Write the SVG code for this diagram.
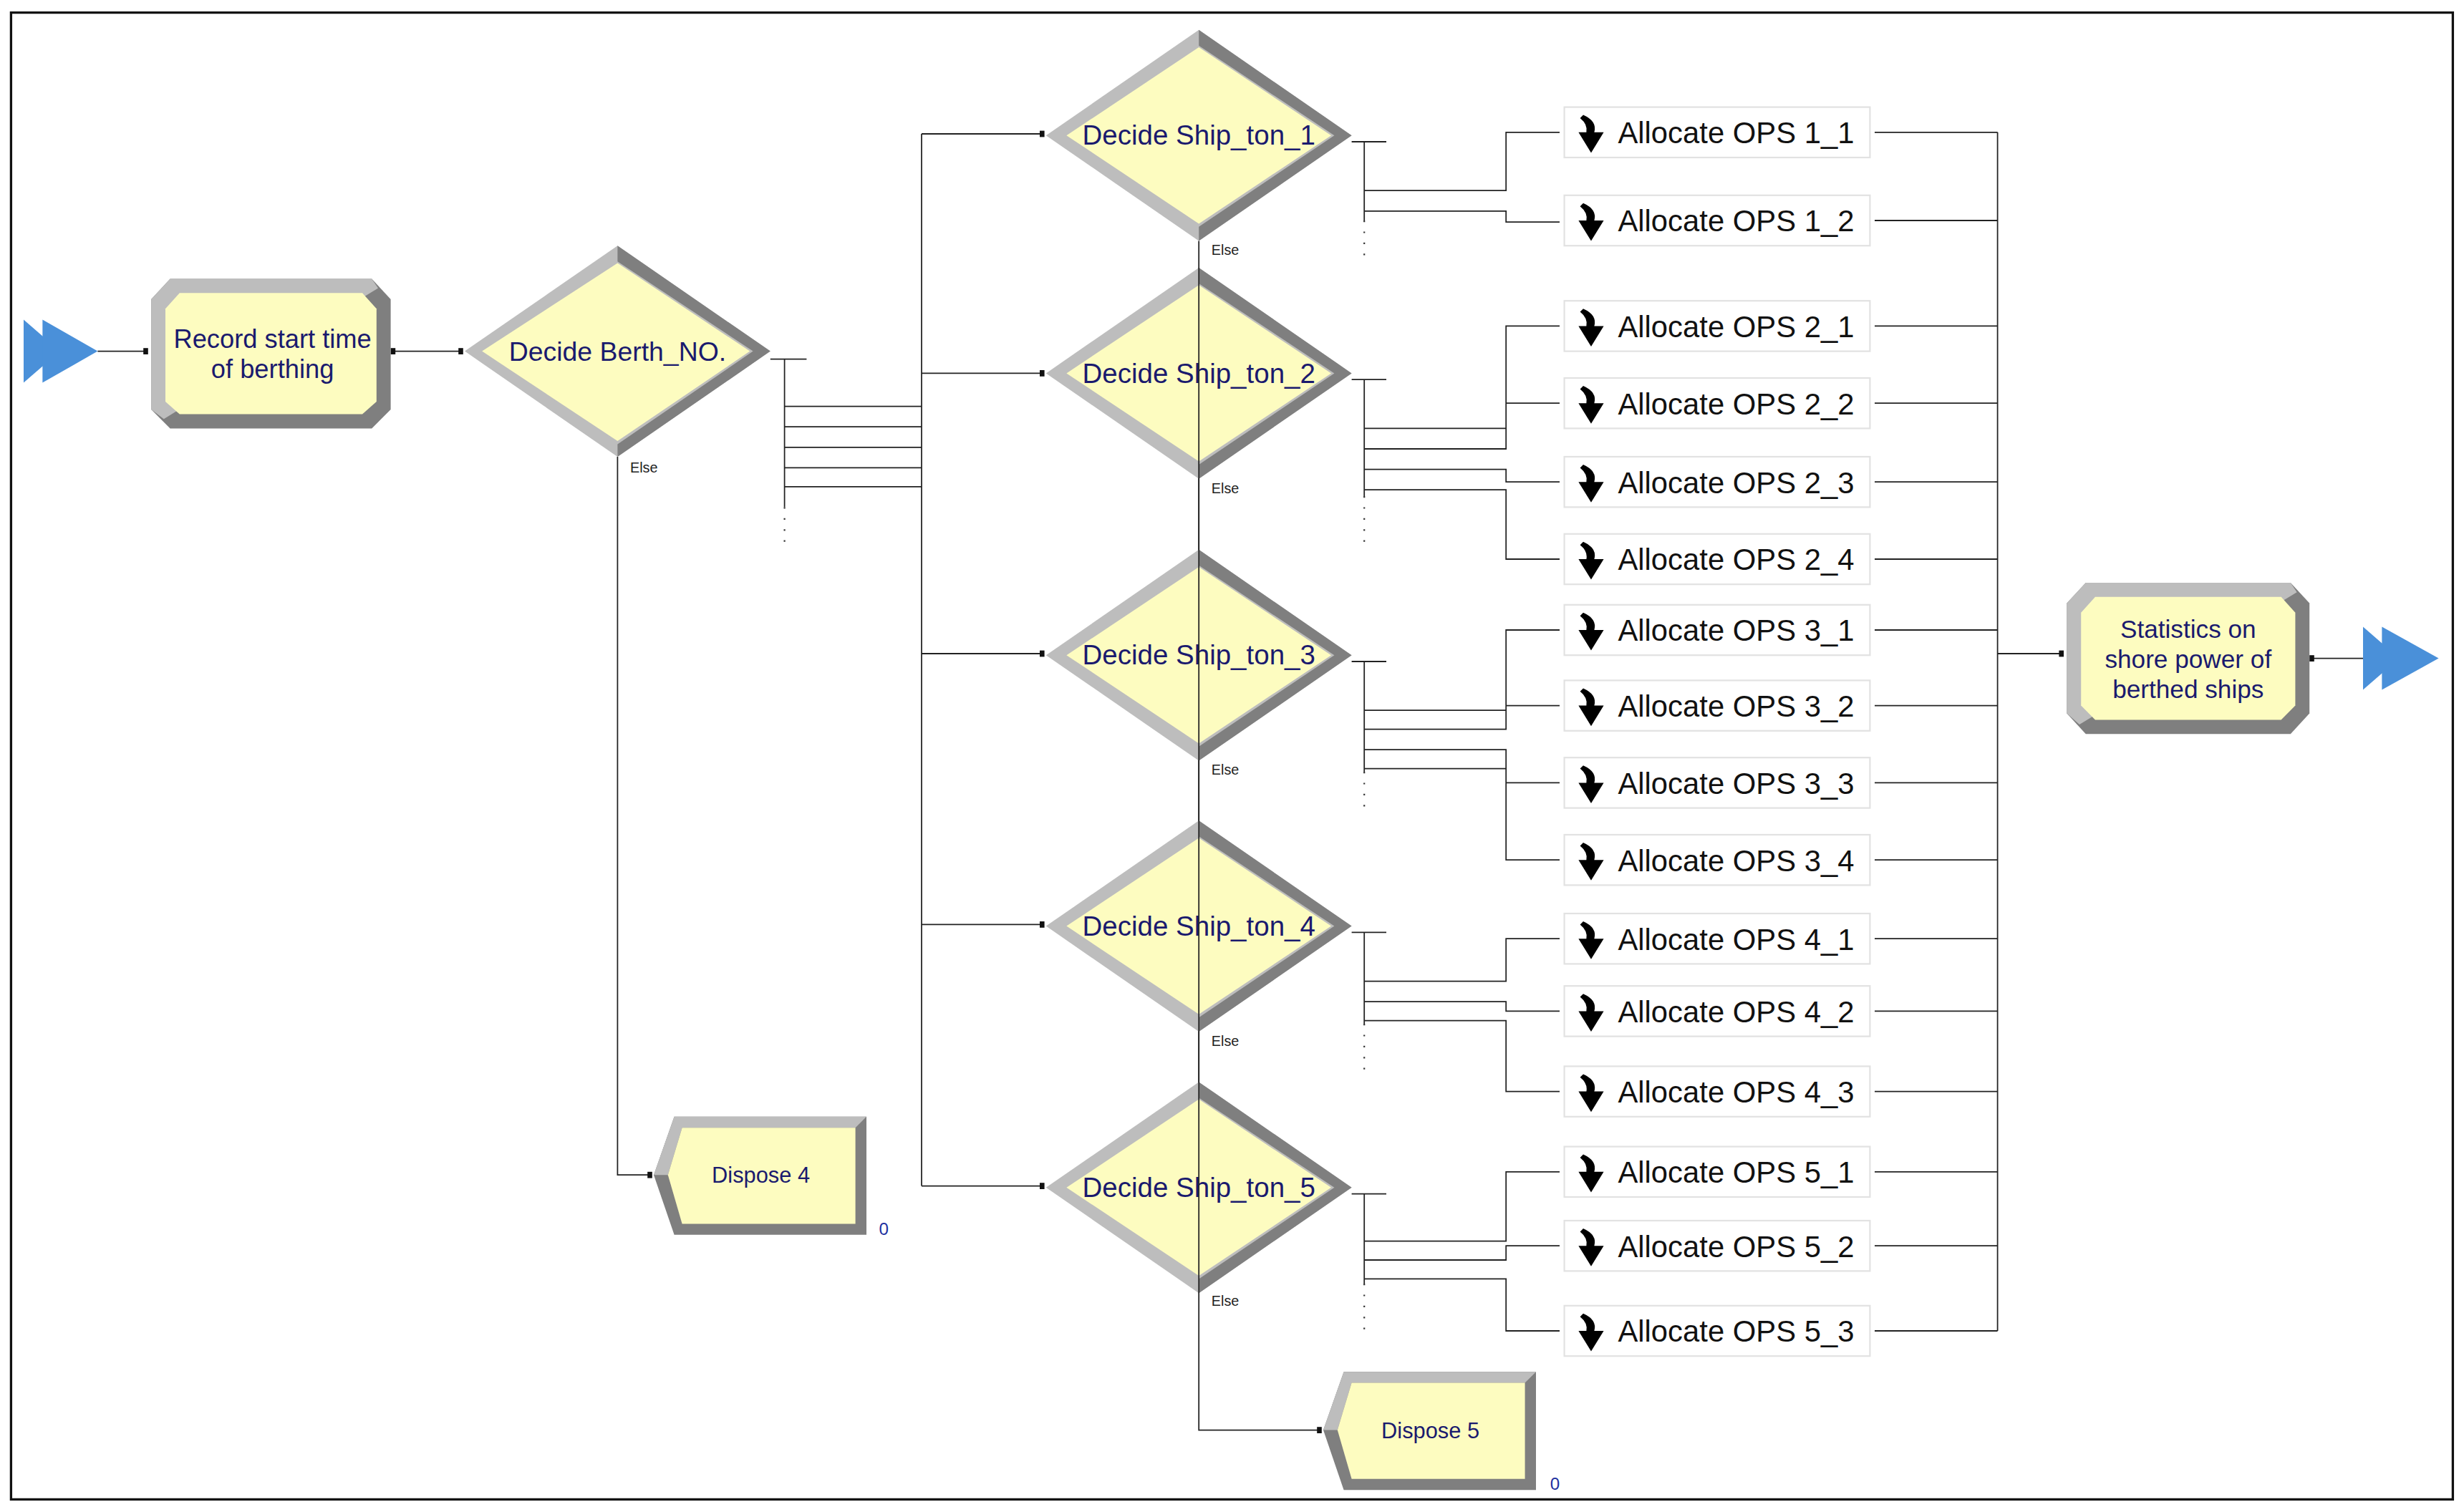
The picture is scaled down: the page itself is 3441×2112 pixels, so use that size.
<svg xmlns="http://www.w3.org/2000/svg" width="3441" height="2112" viewBox="0 0 3441 2112">
<style>
.c{fill:none;stroke:#222;stroke-width:0.8}
.t{font-family:"Liberation Sans",Arial,sans-serif;fill:#1a1a6e;text-anchor:middle}
.a{font-family:"Liberation Sans",Arial,sans-serif;fill:#111;font-size:19px}
.e{font-family:"Liberation Sans",Arial,sans-serif;fill:#222;font-size:9px}
.lt{fill:#bdbdbd}.dk{fill:#7f7f7f}.y{fill:#fdfcc0}
.ab{fill:#fff;stroke:#e2e2e2;stroke-width:1}
.bl{fill:#4a90d9}
.d{fill:#111}
</style>
<rect width="3441" height="2112" fill="#fff"/>
<g transform="scale(2.2)">
<rect x="7" y="8" width="1550" height="944" fill="none" stroke="#111" stroke-width="1.5"/>
<g id="connectors">
<path class="c" d="M62 223H93M250 223H293"/>
<path class="c" d="M489 228H512M498 228V322"/>
<path class="c" d="M498 258H585M498 271H585M498 284H585M498 297H585M498 309H585M585 85V753M585 85H662M585 237H662M585 415H662M585 587H662M585 753H662"/>
<path class="c" d="M392 290V746H413M761 153V908H838"/>
<g stroke="#333" stroke-width="1" stroke-dasharray="1 6" fill="none">
<path d="M498 322V346M866 140V165M866 315V345M866 490V515M866 650V680M866 815V848"/>
</g>
<path class="c" d="M858 90H880M866 90V140M866 121H956V84H990M866 134H956V141H990"/>
<path class="c" d="M858 241H880M866 241V315M866 272H956V207H990M866 285H956V256H990M866 298H956V306H990M866 311H956V355H990"/>
<path class="c" d="M858 420H880M866 420V490M866 451H956V400H990M866 463H956V448H990M866 476H956V497H990M866 488H956V546H990"/>
<path class="c" d="M858 592H880M866 592V650M866 623H956V596H990M866 636H956V642H990M866 648H956V693H990"/>
<path class="c" d="M858 758H880M866 758V815M866 788H956V744H990M866 800H956V791H990M866 812H956V845H990"/>
<path class="c" d="M1190 84H1268M1190 140H1268M1190 207H1268M1190 256H1268M1190 306H1268M1190 355H1268M1190 400H1268M1190 448H1268M1190 497H1268M1190 546H1268M1190 596H1268M1190 642H1268M1190 693H1268M1190 744H1268M1190 791H1268M1190 845H1268M1268 84V845M1268 415H1310M1468 418H1500"/>
<g class="d">
<rect x="91" y="221" width="3" height="4"/><rect x="291" y="221" width="3" height="4"/><rect x="248" y="221" width="3" height="4"/>
<rect x="660" y="83" width="3" height="4"/><rect x="660" y="235" width="3" height="4"/><rect x="660" y="413" width="3" height="4"/><rect x="660" y="585" width="3" height="4"/><rect x="660" y="751" width="3" height="4"/>
<rect x="411" y="744" width="3" height="4"/><rect x="836" y="906" width="3" height="4"/><rect x="1307" y="413" width="3" height="4"/><rect x="1466" y="416" width="3" height="4"/>
</g>
</g>
<g id="create1"><polygon class="bl" points="15,203 38,223 15,243"/><polygon class="bl" points="27,203 62,223 27,243"/></g>
<g id="record">
<polygon class="dk" points="108,177 236,177 248,190 248,260 236,272 108,272 96,260 96,190"/>
<polygon class="lt" points="108,177 236,177 240,183 104,266 96,260 96,190"/>
<polygon class="y" points="114,186 230,186 239,196 239,255 230,263 114,263 105,255 105,196"/>
<text class="t" font-size="16.5" x="173" y="221">Record start time</text>
<text class="t" font-size="16.5" x="173" y="240">of berthing</text>
</g>
<g id="decideBerth">
<polygon class="lt" points="392,156 489,223 392,290 295,223"/>
<polygon class="dk" points="392,156 489,223 392,290 392,282 478,223 392,166"/>
<polygon class="y" points="392,167 476,223 392,280 306,223"/>
<text class="t" font-size="17" x="392" y="229">Decide Berth_NO.</text>
<text class="e" x="400" y="300">Else</text>
</g>
<g id="decideShips">
<g id="ds1"><polygon class="lt" points="761,19 858,86 761,153 664,86"/><polygon class="dk" points="761,19 858,86 761,153 761,144 847,86 761,29"/><polygon class="y" points="761,30 845,86 761,142 677,86"/><text class="t" font-size="17.5" x="761" y="92">Decide Ship_ton_1</text><text class="e" x="769" y="162">Else</text></g>
<g id="ds2"><polygon class="lt" points="761,170 858,237 761,304 664,237"/><polygon class="dk" points="761,170 858,237 761,304 761,295 847,237 761,180"/><polygon class="y" points="761,181 845,237 761,293 677,237"/><text class="t" font-size="17.5" x="761" y="243">Decide Ship_ton_2</text><text class="e" x="769" y="313">Else</text></g>
<g id="ds3"><polygon class="lt" points="761,349 858,416 761,483 664,416"/><polygon class="dk" points="761,349 858,416 761,483 761,474 847,416 761,359"/><polygon class="y" points="761,360 845,416 761,472 677,416"/><text class="t" font-size="17.5" x="761" y="422">Decide Ship_ton_3</text><text class="e" x="769" y="492">Else</text></g>
<g id="ds4"><polygon class="lt" points="761,521 858,588 761,655 664,588"/><polygon class="dk" points="761,521 858,588 761,655 761,646 847,588 761,531"/><polygon class="y" points="761,532 845,588 761,644 677,588"/><text class="t" font-size="17.5" x="761" y="594">Decide Ship_ton_4</text><text class="e" x="769" y="664">Else</text></g>
<g id="ds5"><polygon class="lt" points="761,687 858,754 761,821 664,754"/><polygon class="dk" points="761,687 858,754 761,821 761,812 847,754 761,697"/><polygon class="y" points="761,698 845,754 761,810 677,754"/><text class="t" font-size="17.5" x="761" y="760">Decide Ship_ton_5</text><text class="e" x="769" y="829">Else</text></g>
<path d="M761 170V821" stroke="#222" stroke-width="0.8"/>
</g>
<g id="dispose4">
<polygon class="dk" points="428,709 550,709 550,784 428,784 415,746"/>
<polygon class="lt" points="428,709 550,709 543,716 433,716 424,746 415,746"/>
<polygon class="y" points="433,716 543,716 543,777 433,777 424,746"/>
<text class="t" font-size="14" x="483" y="751">Dispose 4</text>
<text x="561" y="784" font-family="Liberation Sans,sans-serif" font-size="11" fill="#2030a0" text-anchor="middle">0</text>
</g>
<g id="dispose5">
<polygon class="dk" points="853,871 975,871 975,946 853,946 840,908"/>
<polygon class="lt" points="853,871 975,871 968,878 858,878 849,908 840,908"/>
<polygon class="y" points="858,878 968,878 968,939 858,939 849,908"/>
<text class="t" font-size="14" x="908" y="913">Dispose 5</text>
<text x="987" y="946" font-family="Liberation Sans,sans-serif" font-size="11" fill="#2030a0" text-anchor="middle">0</text>
</g>
<defs>
<g id="ico"><path d="M-5 -12 Q4 -8 2 -1 L8 -1 L0 12 L-8 -1 L-3 -1 Q-2 -6 -7 -10 Z" fill="#000"/></g>
</defs>
<g id="allocates">
<g id="a11"><rect class="ab" x="993" y="68" width="194" height="32"/><use href="#ico" x="1010" y="85"/><text class="a" x="1027" y="91" textLength="150">Allocate OPS 1_1</text></g>
<g id="a12"><rect class="ab" x="993" y="124" width="194" height="32"/><use href="#ico" x="1010" y="141"/><text class="a" x="1027" y="147" textLength="150">Allocate OPS 1_2</text></g>
<g id="a21"><rect class="ab" x="993" y="191" width="194" height="32"/><use href="#ico" x="1010" y="208"/><text class="a" x="1027" y="214" textLength="150">Allocate OPS 2_1</text></g>
<g id="a22"><rect class="ab" x="993" y="240" width="194" height="32"/><use href="#ico" x="1010" y="257"/><text class="a" x="1027" y="263" textLength="150">Allocate OPS 2_2</text></g>
<g id="a23"><rect class="ab" x="993" y="290" width="194" height="32"/><use href="#ico" x="1010" y="307"/><text class="a" x="1027" y="313" textLength="150">Allocate OPS 2_3</text></g>
<g id="a24"><rect class="ab" x="993" y="339" width="194" height="32"/><use href="#ico" x="1010" y="356"/><text class="a" x="1027" y="362" textLength="150">Allocate OPS 2_4</text></g>
<g id="a31"><rect class="ab" x="993" y="384" width="194" height="32"/><use href="#ico" x="1010" y="401"/><text class="a" x="1027" y="407" textLength="150">Allocate OPS 3_1</text></g>
<g id="a32"><rect class="ab" x="993" y="432" width="194" height="32"/><use href="#ico" x="1010" y="449"/><text class="a" x="1027" y="455" textLength="150">Allocate OPS 3_2</text></g>
<g id="a33"><rect class="ab" x="993" y="481" width="194" height="32"/><use href="#ico" x="1010" y="498"/><text class="a" x="1027" y="504" textLength="150">Allocate OPS 3_3</text></g>
<g id="a34"><rect class="ab" x="993" y="530" width="194" height="32"/><use href="#ico" x="1010" y="547"/><text class="a" x="1027" y="553" textLength="150">Allocate OPS 3_4</text></g>
<g id="a41"><rect class="ab" x="993" y="580" width="194" height="32"/><use href="#ico" x="1010" y="597"/><text class="a" x="1027" y="603" textLength="150">Allocate OPS 4_1</text></g>
<g id="a42"><rect class="ab" x="993" y="626" width="194" height="32"/><use href="#ico" x="1010" y="643"/><text class="a" x="1027" y="649" textLength="150">Allocate OPS 4_2</text></g>
<g id="a43"><rect class="ab" x="993" y="677" width="194" height="32"/><use href="#ico" x="1010" y="694"/><text class="a" x="1027" y="700" textLength="150">Allocate OPS 4_3</text></g>
<g id="a51"><rect class="ab" x="993" y="728" width="194" height="32"/><use href="#ico" x="1010" y="745"/><text class="a" x="1027" y="751" textLength="150">Allocate OPS 5_1</text></g>
<g id="a52"><rect class="ab" x="993" y="775" width="194" height="32"/><use href="#ico" x="1010" y="792"/><text class="a" x="1027" y="798" textLength="150">Allocate OPS 5_2</text></g>
<g id="a53"><rect class="ab" x="993" y="829" width="194" height="32"/><use href="#ico" x="1010" y="846"/><text class="a" x="1027" y="852" textLength="150">Allocate OPS 5_3</text></g>
</g>
<g id="statistics">
<polygon class="dk" points="1324,370 1454,370 1466,383 1466,453 1454,466 1324,466 1312,453 1312,383"/>
<polygon class="lt" points="1324,370 1454,370 1458,376 1320,460 1312,453 1312,383"/>
<polygon class="y" points="1330,379 1448,379 1457,389 1457,448 1448,457 1330,457 1321,448 1321,389"/>
<text class="t" font-size="16" x="1389" y="405">Statistics on</text>
<text class="t" font-size="16" x="1389" y="424">shore power of</text>
<text class="t" font-size="16" x="1389" y="443">berthed ships</text>
</g>
<g id="dispose-arrow"><polygon class="bl" points="1500,398 1523,418 1500,438"/><polygon class="bl" points="1512,398 1548,418 1512,438"/></g>
</g>
</svg>
